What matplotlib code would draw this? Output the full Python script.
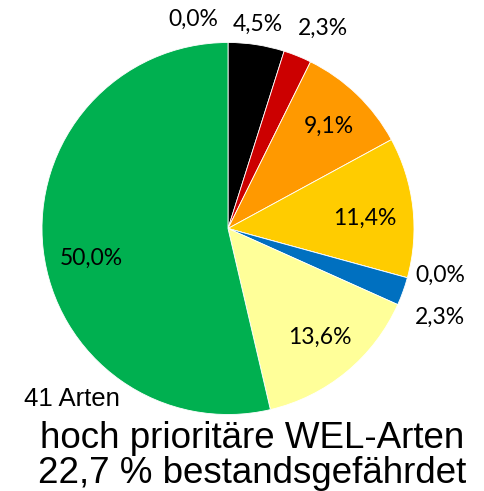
import matplotlib
matplotlib.use("Agg")
import matplotlib.pyplot as plt
import numpy as np

# species counts per category, clockwise from 12 o'clock
counts = [0, 2, 1, 4, 5, 0, 1, 6, 22]
pct_labels = ["0,0%", "4,5%", "2,3%", "9,1%", "11,4%", "0,0%", "2,3%", "13,6%", "50,0%"]
colors = ["#7F7F7F", "#000000", "#CC0000", "#FF9900", "#FFCC00",
          "#A6A6A6", "#0070C0", "#FFFF99", "#00B050"]

# label placement (radius as fraction of pie radius, angular nudge in degrees)
label_r = [1.14, 1.11, 1.19, 0.77, 0.74, 1.17, 1.235, 0.765, 0.75]
label_da = [9.5, 0.5, -3.5, -0.7, -2.2, 3.0, -3.0, 0.8, 5.6]

total_text = "41 Arten"
title_lines = ["hoch prioritäre WEL-Arten", "22,7 % bestandsgefährdet"]

W, H, DPI = 485, 491, 100
fig = plt.figure(figsize=(W / DPI, H / DPI), dpi=DPI)

cx, cy, R = 228, 491 - 228.5, 186
ax = fig.add_axes([(cx - R) / W, (cy - R) / H, 2 * R / W, 2 * R / H])

wedges, _ = ax.pie(counts, colors=colors, startangle=90, counterclock=False,
                   radius=1, wedgeprops=dict(linewidth=0.6, edgecolor="white"))
# pie() resets the limits, so set them afterwards
ax.set_xlim(-1, 1)
ax.set_ylim(-1, 1)
ax.set_aspect("equal")
ax.axis("off")

for w, lab, r, da in zip(wedges, pct_labels, label_r, label_da):
    ang = np.deg2rad((w.theta1 + w.theta2) / 2 + da)
    ax.text(r * np.cos(ang), r * np.sin(ang), lab, ha="center", va="center",
            fontsize=16.5, family=["Lato", "DejaVu Sans"], color="black")

fig.text(24 / W, 1 - 406 / H, total_text, ha="left", va="baseline",
         fontsize=18.5, family=["Liberation Sans", "DejaVu Sans"])
fig.text(252 / W, 1 - 448 / H, title_lines[0], ha="center", va="baseline",
         fontsize=26.5, family=["Liberation Sans", "DejaVu Sans"])
fig.text(252 / W, 1 - 483 / H, title_lines[1], ha="center", va="baseline",
         fontsize=26.5, family=["Liberation Sans", "DejaVu Sans"])

fig.savefig("out.png", dpi=DPI)
